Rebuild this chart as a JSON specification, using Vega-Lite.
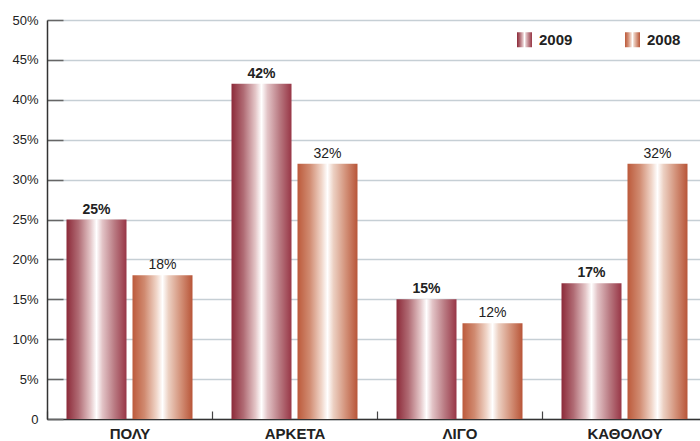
{
  "$schema": "https://vega.github.io/schema/vega-lite/v6.json",
  "width": 660,
  "height": 399,
  "autosize": {"type": "none"},
  "padding": {"left": 47, "top": 20, "right": 0, "bottom": 22},
  "background": "white",
  "config": {
    "view": {"stroke": null},
    "font": "Liberation Sans",
    "axis": {"labelFont": "Liberation Sans", "labelColor": "#222222"}
  },
  "data": {
    "values": [
      {"cat": "ΠΟΛΥ", "year": "2009", "v": 25, "label": "25%"},
      {"cat": "ΠΟΛΥ", "year": "2008", "v": 18, "label": "18%"},
      {"cat": "ΑΡΚΕΤΑ", "year": "2009", "v": 42, "label": "42%"},
      {"cat": "ΑΡΚΕΤΑ", "year": "2008", "v": 32, "label": "32%"},
      {"cat": "ΛΙΓΟ", "year": "2009", "v": 15, "label": "15%"},
      {"cat": "ΛΙΓΟ", "year": "2008", "v": 12, "label": "12%"},
      {"cat": "ΚΑΘΟΛΟΥ", "year": "2009", "v": 17, "label": "17%"},
      {"cat": "ΚΑΘΟΛΟΥ", "year": "2008", "v": 32, "label": "32%"}
    ]
  },
  "encoding": {
    "x": {
      "field": "cat", "type": "nominal", "sort": null,
      "scale": {"paddingInner": 0, "paddingOuter": 0},
      "axis": {
        "title": null, "labelAngle": 0, "labelFontWeight": "bold", "labelFontSize": 15,
        "labelColor": "#222222", "domainColor": "#333333", "domainWidth": 1.5,
        "tickBand": "extent", "tickSize": -8, "tickColor": "#444444", "tickWidth": 1.2,
        "labelPadding": 15, "grid": false
      }
    },
    "xOffset": {
      "field": "year", "type": "nominal", "sort": ["2009", "2008"],
      "scale": {"domain": ["2009", "2008"], "paddingInner": 0.0909, "paddingOuter": 0.2955}
    },
    "y": {
      "field": "v", "type": "quantitative", "stack": null,
      "scale": {"domain": [0, 50], "nice": false},
      "axis": {
        "title": null, "values": [0, 5, 10, 15, 20, 25, 30, 35, 40, 45, 50],
        "labelExpr": "datum.value == 0 ? '0' : datum.value + '%'",
        "labelFontSize": 13, "labelColor": "#222222",
        "grid": true, "gridColor": "#c6cfd5", "gridWidth": 1.5,
        "domainColor": "#333333", "domainWidth": 1.5,
        "tickSize": -16, "tickColor": "#666666", "tickWidth": 1.5,
        "labelPadding": 25
      }
    }
  },
  "layer": [
    {
      "transform": [{"filter": "datum.year == '2009'"}],
      "mark": {"type": "bar", "color": {"gradient": "linear", "x1": 0, "x2": 1, "y1": 0, "y2": 0, "stops": [
        {"offset": 0, "color": "#8c2a39"},
        {"offset": 0.2, "color": "#b06b74"},
        {"offset": 0.4, "color": "#e4c6c8"},
        {"offset": 0.5, "color": "#ffffff"},
        {"offset": 0.6, "color": "#e2c3c6"},
        {"offset": 0.8, "color": "#b97a82"},
        {"offset": 1, "color": "#983646"}
      ]}}
    },
    {
      "transform": [{"filter": "datum.year == '2008'"}],
      "mark": {"type": "bar", "color": {"gradient": "linear", "x1": 0, "x2": 1, "y1": 0, "y2": 0, "stops": [
        {"offset": 0, "color": "#bc5a3b"},
        {"offset": 0.2, "color": "#d08a70"},
        {"offset": 0.4, "color": "#f0d5c8"},
        {"offset": 0.5, "color": "#ffffff"},
        {"offset": 0.6, "color": "#ecd0c2"},
        {"offset": 0.8, "color": "#d3927a"},
        {"offset": 1, "color": "#b85538"}
      ]}}
    },
    {
      "mark": {
        "type": "point", "size": 0, "filled": true,
        "color": {"expr": "datum.value == '2009' || datum.year == '2009' ? {gradient: 'linear', x1: 0, y1: 0, x2: 1, y2: 0, stops: [{offset: 0, color: '#8c2a39'}, {offset: 0.2, color: '#b06b74'}, {offset: 0.4, color: '#e4c6c8'}, {offset: 0.5, color: '#ffffff'}, {offset: 0.6, color: '#e2c3c6'}, {offset: 0.8, color: '#b97a82'}, {offset: 1, color: '#983646'}]} : {gradient: 'linear', x1: 0, y1: 0, x2: 1, y2: 0, stops: [{offset: 0, color: '#bc5a3b'}, {offset: 0.2, color: '#d08a70'}, {offset: 0.4, color: '#f0d5c8'}, {offset: 0.5, color: '#ffffff'}, {offset: 0.6, color: '#ecd0c2'}, {offset: 0.8, color: '#d3927a'}, {offset: 1, color: '#b85538'}]}"}
      },
      "encoding": {
        "opacity": {
          "field": "year", "type": "ordinal",
          "scale": {"domain": ["2009", "2008"], "range": [1, 1]},
          "legend": {
            "title": null, "orient": "none", "legendX": 470, "legendY": 12,
            "direction": "horizontal",
            "symbolType": "square", "symbolSize": 225,
            "symbolStrokeWidth": 0, "labelFontSize": 15, "labelFontWeight": "bold",
            "labelColor": "#222222", "labelOffset": 7, "columnPadding": 52,
            "padding": 0
          }
        }
      }
    },
    {
      "transform": [{"filter": "datum.year == '2009'"}],
      "mark": {"type": "text", "dy": -10, "fontSize": 14, "fontWeight": "bold", "color": "#222222"},
      "encoding": {"text": {"field": "label", "type": "nominal"}}
    },
    {
      "transform": [{"filter": "datum.year == '2008'"}],
      "mark": {"type": "text", "dy": -10, "fontSize": 14, "fontWeight": "normal", "color": "#222222"},
      "encoding": {"text": {"field": "label", "type": "nominal"}}
    }
  ]
}
